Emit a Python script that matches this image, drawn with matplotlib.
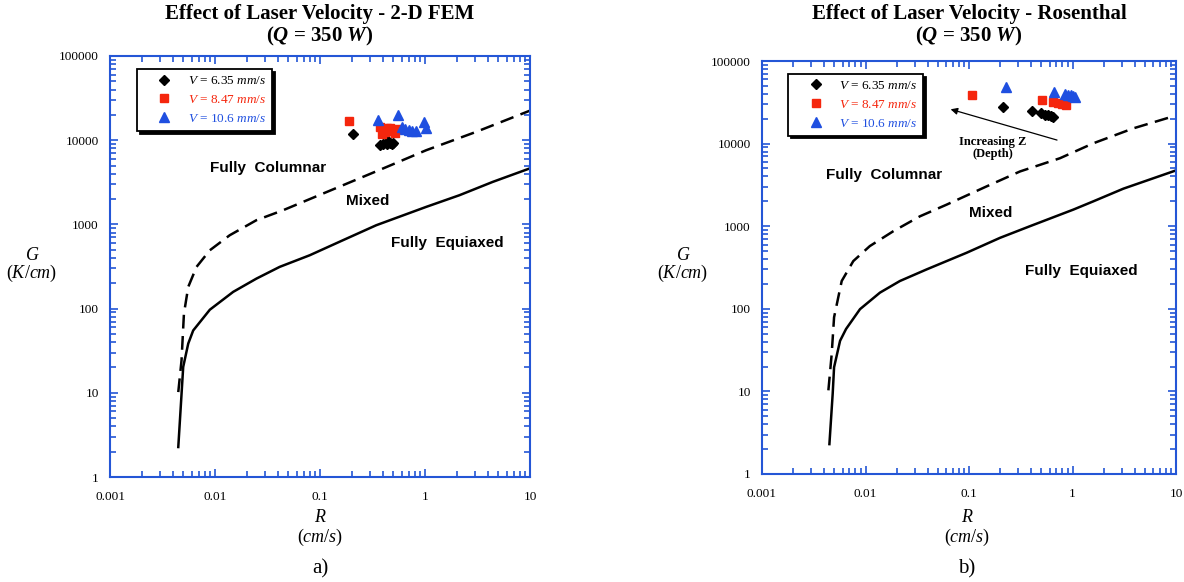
import numpy as np
import matplotlib
matplotlib.use('Agg')
from matplotlib import pyplot as plt
from matplotlib.ticker import LogLocator, FuncFormatter, NullFormatter

plt.rcParams['font.family'] = ['Liberation Serif', 'DejaVu Serif']
plt.rcParams['mathtext.fontset'] = 'custom'
plt.rcParams['mathtext.rm'] = 'Liberation Serif'
plt.rcParams['mathtext.it'] = 'Liberation Serif:italic'
plt.rcParams['mathtext.bf'] = 'Liberation Serif:bold'
plt.rcParams['mathtext.bfit'] = 'Liberation Serif:bold:italic'

# solidification map curves (R in cm/s, G in K/cm)
fem_dash_R = [0.00447, 0.0048, 0.00506, 0.00556, 0.00667, 0.00893, 0.0138, 0.0248,
              0.0445, 0.0689, 0.1655, 0.397, 1.026, 3.07, 9.86]
fem_dash_G = [10.2, 24.3, 87, 181, 313, 493, 743, 1122, 1473, 1850, 2919, 4605,
              7600, 12560, 22300]
fem_solid_R = [0.00447, 0.00498, 0.00556, 0.0062, 0.00893, 0.0149, 0.0248, 0.0413,
               0.0798, 0.1655, 0.343, 1.026, 2.13, 4.42, 9.86]
fem_solid_G = [2.27, 20.3, 38.4, 55, 97, 158, 227, 313, 430, 649, 977, 1614, 2222,
               3199, 4605]

ros_dash_R = [0.00438, 0.00471, 0.00497, 0.00589, 0.00762, 0.0110, 0.0186, 0.0336,
              0.0608, 0.148, 0.311, 0.757, 1.59, 3.87, 9.77]
ros_dash_G = [10.3, 28, 79, 217, 378, 574, 871, 1318, 1824, 3034, 4600, 6653, 10090,
              15300, 21700]
ros_solid_R = [0.00448, 0.00482, 0.00497, 0.00568, 0.00649, 0.00885, 0.0138, 0.0215,
               0.039, 0.0949, 0.1994, 0.388, 1.02, 1.59, 3.10, 9.77]
ros_solid_G = [2.3, 9.4, 19.6, 41, 57, 99, 157, 217, 300, 477, 723, 1000, 1589, 2000,
               2846, 4690]

# melt pool data points, 2-D FEM
fem_v635_R = [0.205, 0.37, 0.40, 0.43, 0.46, 0.49, 0.44, 0.50]
fem_v635_G = [12000, 8700, 8900, 9000, 9200, 8900, 9800, 9300]
fem_v847_R = [0.187, 0.37, 0.40, 0.43, 0.46, 0.50, 0.54, 0.39, 0.42, 0.47, 0.52]
fem_v847_G = [16900, 14500, 13500, 14000, 13800, 13000, 13500, 12000, 12500, 12800, 12300]
fem_v106_R = [0.354, 0.557, 0.60, 0.65, 0.70, 0.76, 0.82, 0.98, 1.02]
fem_v106_G = [17300, 20000, 14500, 13600, 13200, 12800, 12700, 16500, 13900]

# melt pool data points, Rosenthal
ros_v635_R = [0.213, 0.41, 0.50, 0.54, 0.58, 0.62, 0.65]
ros_v635_G = [27900, 24800, 23300, 22500, 22000, 21500, 21000]
ros_v847_R = [0.108, 0.51, 0.65, 0.72, 0.80, 0.87]
ros_v847_G = [39300, 33600, 32000, 31000, 30000, 29000]
ros_v106_R = [0.23, 0.67, 0.84, 0.90, 0.96, 1.02, 1.06]
ros_v106_G = [48600, 42400, 39500, 38500, 38500, 37800, 37000]

labels = [r'$V$ = 6.35 $mm/s$', r'$V$ = 8.47 $mm/s$', r'$V$ = 10.6 $mm/s$']
frame_blue = '#2456d6'
red = '#f5260d'
blue = '#1f4fe0'

W, H = 1184, 582
fig = plt.figure(figsize=(W / 100, H / 100), dpi=100)


def px(x, y):
    # pixel position -> figure fraction
    return x / W, 1 - y / H


def setup_axes(ax):
    ax.set_xscale('log')
    ax.set_yscale('log')
    ax.set_xlim(0.001, 10)
    ax.set_ylim(1, 100000)
    ax.xaxis.set_major_locator(LogLocator(base=10, numticks=10))
    ax.yaxis.set_major_locator(LogLocator(base=10, numticks=10))
    ax.xaxis.set_minor_locator(LogLocator(base=10, subs=np.arange(2, 10), numticks=20))
    ax.yaxis.set_minor_locator(LogLocator(base=10, subs=np.arange(2, 10), numticks=20))
    fmt = FuncFormatter(lambda v, p: '%g' % v)
    ax.xaxis.set_major_formatter(fmt)
    ax.yaxis.set_major_formatter(fmt)
    ax.xaxis.set_minor_formatter(NullFormatter())
    ax.yaxis.set_minor_formatter(NullFormatter())
    ax.tick_params(which='both', direction='in', top=True, right=True,
                   color=frame_blue, width=1.2)
    ax.tick_params(which='major', length=6, labelsize=9.5)
    ax.tick_params(axis='x', which='major', pad=10)
    ax.tick_params(axis='y', which='major', pad=8)
    ax.tick_params(which='minor', length=4)
    for s in ax.spines.values():
        s.set_color(frame_blue)
        s.set_linewidth(1.5)


def draw_panel(ax, dR, dG, sR, sG, pts):
    setup_axes(ax)
    ax.plot(dR, dG, color='black', lw=1.8, dashes=(5.5, 3))
    ax.plot(sR, sG, color='black', lw=1.8)
    styles = [('D', 'black', 5.5), ('s', red, 6), ('^', blue, 6.5)]
    for (R, G), (m, c, ms), lab in zip(pts, styles, labels):
        ax.plot(R, G, linestyle='none', marker=m, color=c, markersize=ms, label=lab)
    leg = ax.legend(loc='upper left', bbox_to_anchor=(0.064, 0.969), borderaxespad=0,
                    fontsize=9.5, fancybox=False, edgecolor='black', framealpha=1,
                    shadow={'color': 'black', 'alpha': 1},
                    labelcolor=['black', red, blue],
                    handlelength=3.2, handletextpad=0.2, borderpad=0.45,
                    labelspacing=0.5)
    leg.get_frame().set_linewidth(1.3)
    return ax


ax1 = fig.add_axes([110 / W, 1 - 477 / H, 420 / W, 421 / H])
draw_panel(ax1, fem_dash_R, fem_dash_G, fem_solid_R, fem_solid_G,
           [(fem_v635_R, fem_v635_G), (fem_v847_R, fem_v847_G), (fem_v106_R, fem_v106_G)])

ax2 = fig.add_axes([762 / W, 1 - 474 / H, 414 / W, 413 / H])
draw_panel(ax2, ros_dash_R, ros_dash_G, ros_solid_R, ros_solid_G,
           [(ros_v635_R, ros_v635_G), (ros_v847_R, ros_v847_G), (ros_v106_R, ros_v106_G)])

# region labels
reg = dict(family='Liberation Sans', fontweight='bold', fontsize=11, ha='center', va='center')
ax1.text(0.0322, 4730, 'Fully  Columnar', **reg)
ax1.text(0.284, 1893, 'Mixed', **reg)
ax1.text(1.64, 606, 'Fully  Equiaxed', **reg)
ax2.text(0.0151, 4170, 'Fully  Columnar', **reg)
ax2.text(0.163, 1432, 'Mixed', **reg)
ax2.text(1.21, 287, 'Fully  Equiaxed', **reg)

# depth arrow on the Rosenthal panel
ax2.annotate('', xy=(0.0626, 26600), xytext=(0.752, 10800),
             arrowprops=dict(arrowstyle='-|>', color='black', lw=0.9, mutation_scale=10))
ax2.text(0.171, 8780, 'Increasing Z\n(Depth)', fontsize=9, fontweight='bold',
         ha='center', va='center', linespacing=1.0)

# titles
for cx, name in [(320, 'Effect of Laser Velocity - 2-D FEM'),
                 (969, 'Effect of Laser Velocity - Rosenthal')]:
    fig.text(*px(cx, 14), name, fontsize=15, fontweight='bold', ha='center', va='center')
    fig.text(*px(cx, 36), r'($\mathbfit{Q}$ = 350 $\mathbfit{W}$)', fontsize=15,
             fontweight='bold', ha='center', va='center')

# axis labels and panel tags
for cx, gx, tag in [(320, 32, 'a)'), (967, 683, 'b)')]:
    fig.text(*px(cx, 517), r'$R$', fontsize=13, ha='center', va='center')
    fig.text(*px(cx, 537), r'$(cm/s)$', fontsize=13, ha='center', va='center')
    fig.text(*px(gx, 255), r'$G$', fontsize=13, ha='center', va='center')
    fig.text(*px(gx, 273), r'$(K/cm)$', fontsize=13, ha='center', va='center')
    fig.text(*px(cx, 569), tag, fontsize=15, ha='center', va='center')

fig.savefig('out.png', dpi=100)
